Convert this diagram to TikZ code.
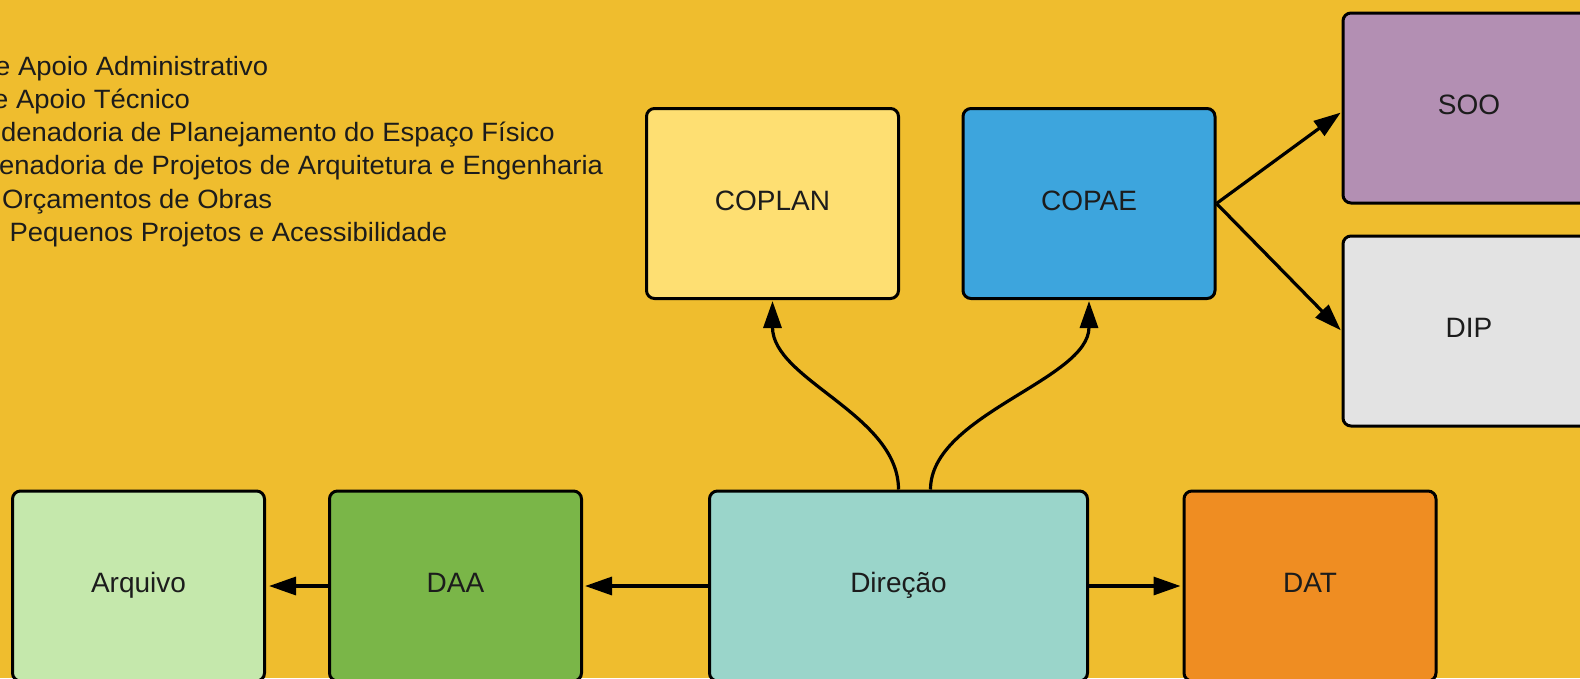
\documentclass[tikz,border=0pt]{standalone}
\usepackage{fontspec}
\setmainfont{Liberation Sans}
\newfontfamily\listfamily[FakeStretch=1.035]{Liberation Sans}
\usetikzlibrary{arrows.meta}
\definecolor{bg}{HTML}{EFBD2E}
\definecolor{txt}{HTML}{1C1C1C}
\definecolor{cCoplan}{HTML}{FEDF72}
\definecolor{cCopae}{HTML}{3DA5DD}
\definecolor{cSoo}{HTML}{B38FB3}
\definecolor{cDip}{HTML}{E3E3E3}
\definecolor{cArq}{HTML}{C5E8AC}
\definecolor{cDaa}{HTML}{7AB648}
\definecolor{cDir}{HTML}{9AD5CA}
\definecolor{cDat}{HTML}{EF8D22}
\newcommand\mylistfont{\listfamily\fontsize{26.5}{30}\selectfont}
\begin{document}
\begin{tikzpicture}[x=1pt,y=-1pt,
  box/.style={draw=black, line width=3pt, rounded corners=8pt,
    minimum width=252pt, minimum height=190pt, inner sep=0pt,
    text height=20pt, text depth=7pt, font=\fontsize{28}{32}\selectfont, text=txt},
  arr/.style={line width=3.2pt, draw=black, -{Triangle[length=27pt,width=18pt]}},
  lst/.style={anchor=base west, inner sep=0pt, text=txt, font=\mylistfont}]
\fill[bg] (0,0) rectangle (1580,678);
\useasboundingbox (0,0) rectangle (1580,678);

% list of abbreviations (clipped at the left edge)
\node[lst] (l1) at (-5,75) {e Apoio Administrativo};
\node[lst] (l2) at (-7,108) {e Apoio Técnico};
\node[lst] (l3) at (1,141) {denadoria de Planejamento do Espaço Físico};
\node[lst] (l4) at (-1,174.5) {enadoria de Projetos de Arquitetura e Engenharia};
\node[lst] (l5) at (2,208) {Orçamentos de Obras};
\node[lst] (l6) at (9.5,241) {Pequenos Projetos e Acessibilidade};

% boxes
\node[box, fill=cCoplan] (coplan) at (772.5,203.5) {COPLAN};
\node[box, fill=cCopae] (copae) at (1089,203.5) {COPAE};
\node[box, fill=cSoo] (soo) at (1469,108) {SOO};
\node[box, fill=cDip] (dip) at (1469,331) {DIP};
\node[box, fill=cArq] (arq) at (138.5,586) {Arquivo};
\node[box, fill=cDaa] (daa) at (455.5,586) {DAA};
\node[box, fill=cDir, minimum width=378pt] (dir) at (898.5,586) {Direção};
\node[box, fill=cDat] (dat) at (1310,586) {DAT};

% connectors
\draw[arr, shorten >=2pt] (dir.west) -- (daa.east);
\draw[arr, shorten >=3pt] (daa.west) -- (arq.east);
\draw[arr, shorten >=2pt] (dir.east) -- (dat.west);
\draw[arr, shorten >=1pt] (dir.north) .. controls +(0,-75) and +(0,80) .. (coplan.south);
\draw[arr, shorten >=1pt] ([xshift=32pt]dir.north) .. controls +(0,-75) and +(0,80) .. (copae.south);
\draw[arr, shorten >=1pt] (copae.east) -- ([yshift=-4pt]soo.west);
\draw[arr, shorten >=1pt] (copae.east) -- (dip.west);
\end{tikzpicture}
\end{document}
